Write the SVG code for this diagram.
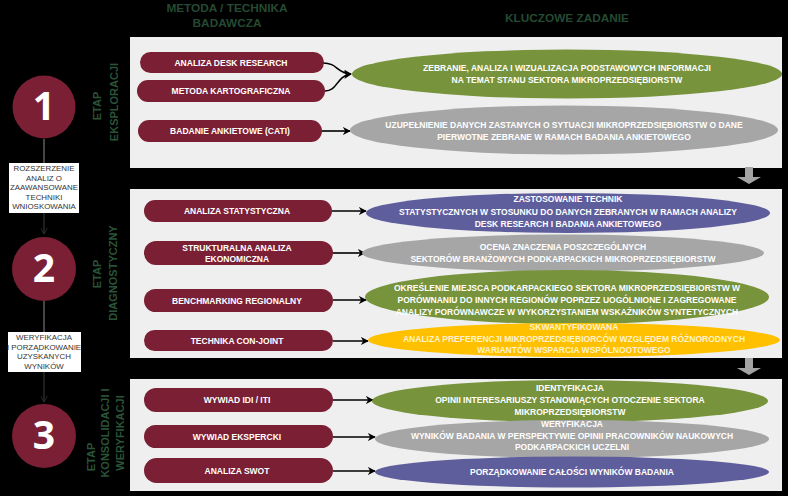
<svg xmlns="http://www.w3.org/2000/svg" width="788" height="496" viewBox="0 0 788 496">
<defs>
<style>
.hdr{font-family:"Liberation Sans",Arial,sans-serif;font-weight:700;font-size:11.8px;fill:#254a33;text-anchor:middle}
.stg{font-family:"Liberation Sans",Arial,sans-serif;font-weight:700;font-size:11px;fill:#2a5438;text-anchor:middle}
.panel{fill:#efefef}
.pill{fill:#7a1f34}
.pt{font-family:"Liberation Sans",Arial,sans-serif;font-weight:700;font-size:8.5px;fill:#ffffff;text-anchor:middle}
.et{font-family:"Liberation Sans",Arial,sans-serif;font-weight:700;font-size:8.5px;fill:#ffffff;text-anchor:middle}
.yt{fill:#fff2cc}
.circ{fill:#7a1f34}
.num{font-family:"Open Sans","Liberation Sans",sans-serif;font-weight:700;font-size:39px;fill:#ffffff;text-anchor:middle}
.box{fill:#ffffff}
.bt{font-family:"Liberation Sans",Arial,sans-serif;font-size:7.9px;fill:#333333;text-anchor:middle}
.arr{stroke:#000;stroke-width:1.6;fill:none;marker-end:url(#ah)}
.vl{stroke:#8a8a8a;stroke-width:1;fill:none}
.vd{stroke:#3a3a3a;stroke-width:1;fill:none;marker-end:url(#oh)}
.green{fill:#77933c}.gray{fill:#a6a6a6}.purple{fill:#5f5e9c}.yellow{fill:#ffc000}
.blk{fill:#a3a3a3}
</style>
<marker id="ah" viewBox="0 0 10 10" refX="9" refY="5" markerWidth="5" markerHeight="5" orient="auto" markerUnits="strokeWidth">
<path d="M0,0 L10,5 L0,10 L3,5 z" fill="#000"/>
</marker>
<marker id="oh" viewBox="0 0 10 10" refX="9" refY="5" markerWidth="7" markerHeight="7" orient="auto" markerUnits="strokeWidth">
<path d="M0,0 L9,5 L0,10" fill="none" stroke="#3a3a3a" stroke-width="1"/>
</marker>
</defs>
<rect x="0" y="0" width="788" height="496" fill="#000"/>

<g id="headers">
<text class="hdr" x="227" y="12">METODA / TECHNIKA</text>
<text class="hdr" x="227" y="27">BADAWCZA</text>
<text class="hdr" x="567" y="22">KLUCZOWE ZADANIE</text>
</g>

<g id="panels">
<rect class="panel" x="130" y="37" width="652" height="131"/>
<rect class="panel" x="130" y="189" width="652" height="169"/>
<rect class="panel" x="130" y="379" width="652" height="112"/>
</g>

<g id="stage-labels">
<text class="stg" transform="translate(101,106) rotate(-90)">ETAP</text>
<text class="stg" transform="translate(118,102) rotate(-90)">EKSPLORACJI</text>
<text class="stg" transform="translate(101,274) rotate(-90)">ETAP</text>
<text class="stg" transform="translate(117,273) rotate(-90)">DIAGNOSTYCZNY</text>
<text class="stg" transform="translate(95,457) rotate(-90)">ETAP</text>
<text class="stg" transform="translate(109,433) rotate(-90)">KONSOLIDACJI I</text>
<text class="stg" transform="translate(124,433) rotate(-90)">WERYFIKACJI</text>
</g>

<g id="connectors">
<line class="vl" x1="44" y1="139" x2="44" y2="163"/>
<line class="vd" x1="44" y1="213" x2="44" y2="234"/>
<line class="vl" x1="44" y1="301" x2="44" y2="332"/>
<line class="vd" x1="44" y1="372" x2="44" y2="402"/>
<path class="arr" d="M323,63 C338,63 336,73 351,74"/>
<path class="arr" d="M325,91 C338,91 336,76 351,74"/>
<line class="arr" x1="322" y1="131" x2="350" y2="131"/>
<line class="arr" x1="332" y1="211" x2="366" y2="211"/>
<line class="arr" x1="333" y1="253" x2="365" y2="253"/>
<line class="arr" x1="333" y1="300" x2="366" y2="300"/>
<line class="arr" x1="333" y1="341" x2="368" y2="341"/>
<line class="arr" x1="333" y1="400" x2="373" y2="400"/>
<line class="arr" x1="333" y1="437" x2="375" y2="437"/>
<line class="arr" x1="333" y1="471" x2="375" y2="471"/>
<path class="blk" d="M745,167 H753 V177 H761 L749,184 L737,177 H745 Z"/>
<path class="blk" d="M745,358 H753 V368 H761 L749,375 L737,368 H745 Z"/>
</g>

<g id="step1">
<circle class="circ" cx="44" cy="107" r="31.5"/>
<text class="num" x="44" y="120">1</text>
</g>
<g id="step2">
<circle class="circ" cx="44" cy="269" r="32"/>
<text class="num" x="44" y="282">2</text>
</g>
<g id="step3">
<circle class="circ" cx="44" cy="436" r="32"/>
<text class="num" x="44" y="449">3</text>
</g>

<g id="note1">
<rect class="box" x="9" y="163" width="70" height="50"/>
<text class="bt" x="44" y="171">ROZSZERZENIE</text>
<text class="bt" x="44" y="180.5">ANALIZ O</text>
<text class="bt" x="44" y="190">ZAAWANSOWANE</text>
<text class="bt" x="44" y="199.5">TECHNIKI</text>
<text class="bt" x="44" y="209">WNIOSKOWANIA</text>
</g>
<g id="note2">
<rect class="box" x="8" y="332" width="73" height="40"/>
<text class="bt" x="44" y="340">WERYFIKACJA</text>
<text class="bt" x="44" y="349.5">I PORZĄDKOWANIE</text>
<text class="bt" x="44" y="359">UZYSKANYCH</text>
<text class="bt" x="44" y="368.5">WYNIKÓW</text>
</g>

<g id="m-desk">
<rect class="pill" x="140" y="52" width="184" height="21" rx="10.5"/>
<text class="pt" x="231" y="65.5">ANALIZA DESK RESEARCH</text>
</g>
<g id="m-karto">
<rect class="pill" x="137" y="80" width="188" height="22" rx="11"/>
<text class="pt" x="231" y="94">METODA KARTOGRAFICZNA</text>
</g>
<g id="m-cati">
<rect class="pill" x="138" y="120" width="184" height="22" rx="11"/>
<text class="pt" x="230" y="134">BADANIE ANKIETOWE (CATI)</text>
</g>
<g id="m-stat">
<rect class="pill" x="144" y="200" width="188" height="22" rx="11"/>
<text class="pt" x="237" y="214">ANALIZA STATYSTYCZNA</text>
</g>
<g id="m-strukt">
<rect class="pill" x="144" y="241" width="189" height="24" rx="12"/>
<text class="pt" x="237" y="251">STRUKTURALNA ANALIZA</text>
<text class="pt" x="237" y="261.5">EKONOMICZNA</text>
</g>
<g id="m-bench">
<rect class="pill" x="144" y="289" width="189" height="23" rx="11.5"/>
<text class="pt" x="237" y="303.5">BENCHMARKING REGIONALNY</text>
</g>
<g id="m-conjoint">
<rect class="pill" x="144" y="330" width="189" height="21" rx="10.5"/>
<text class="pt" x="237" y="343.5">TECHNIKA CON-JOINT</text>
</g>
<g id="m-idi">
<rect class="pill" x="144" y="388" width="189" height="24" rx="12"/>
<text class="pt" x="237" y="403">WYWIAD IDI / ITI</text>
</g>
<g id="m-eksp">
<rect class="pill" x="144" y="425" width="189" height="23" rx="11.5"/>
<text class="pt" x="237" y="439.5">WYWIAD EKSPERCKI</text>
</g>
<g id="m-swot">
<rect class="pill" x="144" y="458" width="189" height="25" rx="12.5"/>
<text class="pt" x="237" y="473.5">ANALIZA SWOT</text>
</g>

<g id="t-zebranie">
<ellipse class="green" cx="567" cy="74" rx="215" ry="24.5"/>
<text class="et" x="567" y="71">ZEBRANIE, ANALIZA I WIZUALIZACJA PODSTAWOWYCH INFORMACJI</text>
<text class="et" x="567" y="83">NA TEMAT STANU SEKTORA MIKROPRZEDSIĘBIORSTW</text>
</g>
<g id="t-uzupelnienie">
<ellipse class="gray" cx="564" cy="130" rx="214" ry="24.5"/>
<text class="et" x="564" y="128">UZUPEŁNIENIE DANYCH ZASTANYCH O SYTUACJI MIKROPRZEDSIĘBIORSTW O DANE</text>
<text class="et" x="564" y="140">PIERWOTNE ZEBRANE W RAMACH BADANIA ANKIETOWEGO</text>
</g>
<g id="t-zastosowanie">
<ellipse class="purple" cx="568" cy="213" rx="202" ry="20"/>
<text class="et" x="568" y="202">ZASTOSOWANIE TECHNIK</text>
<text class="et" x="568" y="214.5">STATYSTYCZNYCH W STOSUNKU DO DANYCH ZEBRANYCH W RAMACH ANALIZY</text>
<text class="et" x="568" y="226.5">DESK RESEARCH I BADANIA ANKIETOWEGO</text>
</g>
<g id="t-ocena">
<ellipse class="gray" cx="563" cy="253" rx="201" ry="18.5"/>
<text class="et" x="563" y="250">OCENA ZNACZENIA POSZCZEGÓLNYCH</text>
<text class="et" x="563" y="261.5">SEKTORÓW BRANŻOWYCH PODKARPACKICH MIKROPRZEDSIĘBIORSTW</text>
</g>
<g id="t-okreslenie">
<ellipse class="green" cx="567" cy="297" rx="202" ry="27"/>
<text class="et" x="567" y="291">OKREŚLENIE MIEJSCA PODKARPACKIEGO SEKTORA MIKROPRZEDSIĘBIORSTW W</text>
<text class="et" x="567" y="303">PORÓWNANIU DO INNYCH REGIONÓW POPRZEZ UOGÓLNIONE I ZAGREGOWANE</text>
<text class="et" x="567" y="315">ANALIZY PORÓWNAWCZE W WYKORZYSTANIEM WSKAŹNIKÓW SYNTETYCZNYCH</text>
</g>
<g id="t-conjoint">
<ellipse class="yellow" cx="574" cy="340" rx="206" ry="17"/>
<text class="et yt" x="574" y="330">SKWANTYFIKOWANA</text>
<text class="et yt" x="574" y="342">ANALIZA PREFERENCJI MIKROPRZEDSIĘBIORCÓW WZGLĘDEM RÓŻNORODNYCH</text>
<text class="et yt" x="574" y="353">WARIANTÓW WSPARCIA WSPÓLNOOTOWEGO</text>
</g>
<g id="t-identyfikacja">
<ellipse class="green" cx="570" cy="401" rx="198" ry="21"/>
<text class="et" x="570" y="391">IDENTYFIKACJA</text>
<text class="et" x="570" y="403">OPINII INTERESARIUSZY STANOWIĄCYCH OTOCZENIE SEKTORA</text>
<text class="et" x="570" y="415">MIKROPRZEDSIĘBIORSTW</text>
</g>
<g id="t-weryfikacja">
<ellipse class="gray" cx="572" cy="439" rx="197" ry="19"/>
<text class="et" x="572" y="426.5">WERYFIKACJA</text>
<text class="et" x="572" y="438.5">WYNIKÓW BADANIA W PERSPEKTYWIE OPINII PRACOWNIKÓW NAUKOWYCH</text>
<text class="et" x="572" y="450">PODKARPACKICH UCZELNI</text>
</g>
<g id="t-porzadkowanie">
<ellipse class="purple" cx="572" cy="472" rx="197" ry="15.5"/>
<text class="et" x="572" y="475">PORZĄDKOWANIE CAŁOŚCI WYNIKÓW BADANIA</text>
</g>
</svg>
